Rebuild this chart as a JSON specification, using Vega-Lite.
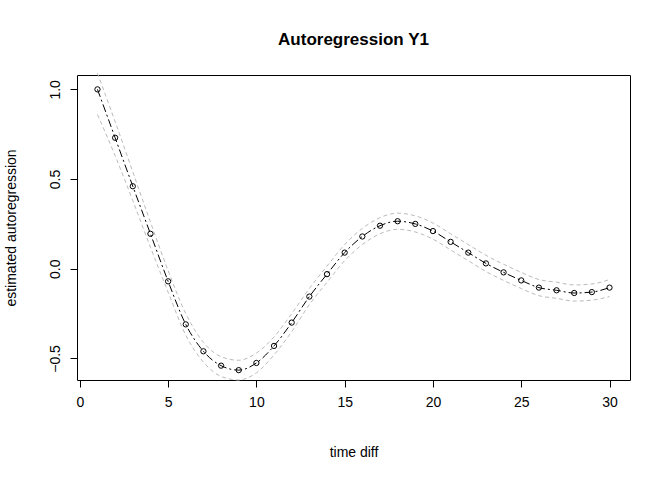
{
  "$schema": "https://vega.github.io/schema/vega-lite/v6.json",
  "width": 553,
  "height": 305,
  "autosize": "none",
  "padding": {"left": 77, "top": 75, "right": 42, "bottom": 100},
  "background": "white",
  "config": {
    "view": {"stroke": "black", "strokeWidth": 1},
    "font": "Liberation Sans",
    "axis": {"domain": false, "grid": false, "tickColor": "black", "tickSize": 7, "labelColor": "black", "labelFontSize": 14, "titleFontSize": 14, "titleFontWeight": "normal", "labelFont": "Liberation Sans", "titleFont": "Liberation Sans"}
  },
  "title": {"text": "Autoregression Y1", "fontSize": 17, "fontWeight": "bold", "font": "Liberation Sans", "offset": 22},
  "data": {"values": [
    {"t": 1, "v": 1.0, "lo": 0.86, "hi": 1.09},
    {"t": 2, "v": 0.73, "lo": 0.63, "hi": 0.82},
    {"t": 3, "v": 0.46, "lo": 0.38, "hi": 0.54},
    {"t": 4, "v": 0.195, "lo": 0.12, "hi": 0.26},
    {"t": 5, "v": -0.07, "lo": -0.13, "hi": -0.01},
    {"t": 6, "v": -0.31, "lo": -0.37, "hi": -0.25},
    {"t": 7, "v": -0.46, "lo": -0.52, "hi": -0.41},
    {"t": 8, "v": -0.54, "lo": -0.60, "hi": -0.49},
    {"t": 9, "v": -0.565, "lo": -0.62, "hi": -0.51},
    {"t": 10, "v": -0.525, "lo": -0.58, "hi": -0.47},
    {"t": 11, "v": -0.43, "lo": -0.48, "hi": -0.38},
    {"t": 12, "v": -0.30, "lo": -0.35, "hi": -0.25},
    {"t": 13, "v": -0.155, "lo": -0.20, "hi": -0.11},
    {"t": 14, "v": -0.03, "lo": -0.075, "hi": 0.015},
    {"t": 15, "v": 0.09, "lo": 0.045, "hi": 0.135},
    {"t": 16, "v": 0.18, "lo": 0.135, "hi": 0.225},
    {"t": 17, "v": 0.24, "lo": 0.195, "hi": 0.285},
    {"t": 18, "v": 0.265, "lo": 0.22, "hi": 0.31},
    {"t": 19, "v": 0.25, "lo": 0.205, "hi": 0.295},
    {"t": 20, "v": 0.21, "lo": 0.165, "hi": 0.255},
    {"t": 21, "v": 0.15, "lo": 0.105, "hi": 0.195},
    {"t": 22, "v": 0.09, "lo": 0.045, "hi": 0.135},
    {"t": 23, "v": 0.03, "lo": -0.015, "hi": 0.075},
    {"t": 24, "v": -0.02, "lo": -0.065, "hi": 0.025},
    {"t": 25, "v": -0.065, "lo": -0.11, "hi": -0.02},
    {"t": 26, "v": -0.105, "lo": -0.15, "hi": -0.06},
    {"t": 27, "v": -0.12, "lo": -0.165, "hi": -0.075},
    {"t": 28, "v": -0.135, "lo": -0.18, "hi": -0.09},
    {"t": 29, "v": -0.13, "lo": -0.175, "hi": -0.085},
    {"t": 30, "v": -0.105, "lo": -0.155, "hi": -0.06}
  ]},
  "encoding": {
    "x": {"field": "t", "type": "quantitative", "scale": {"domain": [-0.16, 31.16], "nice": false, "zero": false}, "axis": {"values": [0, 5, 10, 15, 20, 25, 30], "title": "time diff", "titlePadding": 36, "labelPadding": 8}}
  },
  "layer": [
    {"mark": {"type": "line", "color": "#bbbbbb", "strokeDash": [4, 3], "strokeWidth": 1, "interpolate": "monotone"},
     "encoding": {"y": {"field": "hi", "type": "quantitative", "scale": {"domain": [-0.62, 1.08], "nice": false, "zero": false}, "axis": {"values": [-0.5, 0, 0.5, 1], "format": ".1f", "labelAngle": -90, "labelAlign": "center", "labelBaseline": "bottom", "labelPadding": 8, "title": "estimated autoregression", "titlePadding": 30}}}},
    {"mark": {"type": "line", "color": "#bbbbbb", "strokeDash": [4, 3], "strokeWidth": 1, "interpolate": "monotone"},
     "encoding": {"y": {"field": "lo", "type": "quantitative"}}},
    {"mark": {"type": "line", "color": "black", "strokeDash": [8, 3, 2, 3], "strokeWidth": 1, "interpolate": "monotone"},
     "encoding": {"y": {"field": "v", "type": "quantitative"}}},
    {"mark": {"type": "point", "shape": "circle", "filled": false, "color": "black", "size": 28, "strokeWidth": 1, "opacity": 1},
     "encoding": {"y": {"field": "v", "type": "quantitative"}}}
  ]
}
